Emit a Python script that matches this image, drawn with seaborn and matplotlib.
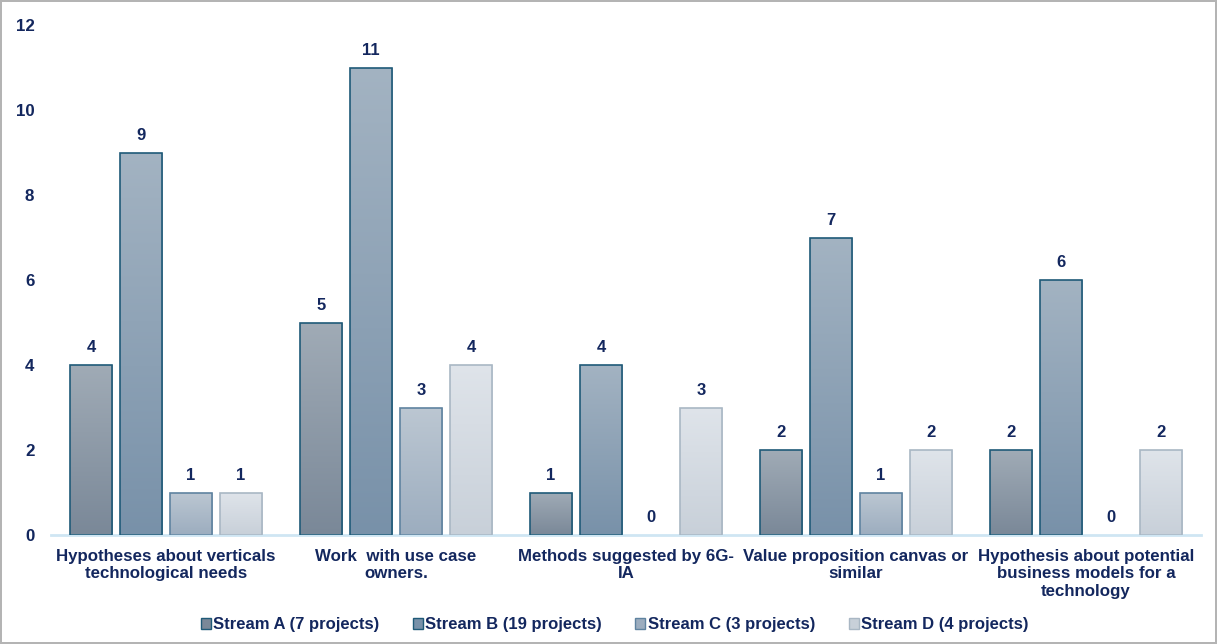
import numpy as np
import pandas as pd
import matplotlib.pyplot as plt
import matplotlib.colors as mcolors
from matplotlib.patches import Rectangle
import seaborn as sns

categories = [
    "Hypotheses about verticals\ntechnological needs",
    "Work  with use case\nowners.",
    "Methods suggested by 6G-\nIA",
    "Value proposition canvas or\nsimilar",
    "Hypothesis about potential\nbusiness models for a\ntechnology",
]
streams = [
    "Stream A (7 projects)",
    "Stream B (19 projects)",
    "Stream C (3 projects)",
    "Stream D (4 projects)",
]
stream_a = [4, 5, 1, 2, 2]
stream_b = [9, 11, 4, 7, 6]
stream_c = [1, 3, 0, 1, 0]
stream_d = [1, 4, 3, 2, 2]

# top / bottom gradient colours and edge colour for each stream
grad_top = ["#a0abb6", "#a3b3c2", "#bcc7d2", "#dfe4ea"]
grad_bottom = ["#7a8898", "#7891a9", "#9cadbf", "#c8d0d9"]
edges = ["#1f5a78", "#1f5a78", "#5f83a0", "#a9b7c4"]
text_col = "#13275e"

df = pd.DataFrame({
    "category": np.repeat(categories, 4),
    "stream": streams * len(categories),
    "count": [v for row in zip(stream_a, stream_b, stream_c, stream_d) for v in row],
})

sns.set_style("white")
plt.rcParams["font.family"] = ["Liberation Sans", "DejaVu Sans"]
plt.rcParams["font.weight"] = "bold"

fig = plt.figure(figsize=(12.17, 6.44), dpi=100)
fig.patch.set_edgecolor("#b4b4b4")
fig.patch.set_linewidth(1.5)
ax = fig.add_axes([51 / 1217, 1 - 535 / 644, 1150 / 1217, 510 / 644])

sns.barplot(data=df, x="category", y="count", hue="stream", hue_order=streams,
            order=categories, width=0.87, gap=0.16, palette=grad_top,
            legend=False, ax=ax)

# vertical gradient fill, clipped to each bar
grad = np.linspace(0, 1, 256).reshape(-1, 1)
for i, cont in enumerate(ax.containers):
    cmap = mcolors.LinearSegmentedColormap.from_list(
        f"g{i}", [grad_top[i], grad_bottom[i]])
    for p in cont.patches:
        x0, y0 = p.get_x(), p.get_y()
        w, h = p.get_width(), p.get_height()
        if h > 0:
            im = ax.imshow(grad, cmap=cmap, aspect="auto", origin="upper",
                           extent=[x0, x0 + w, y0, y0 + h], zorder=2)
            im.set_clip_path(p)
        p.set_facecolor("none")
        p.set_edgecolor(edges[i] if h > 0 else "none")
        p.set_linewidth(1.2)
        p.set_zorder(3)

ax.set_xlim(-0.5, len(categories) - 0.5)
ax.set_ylim(0, 12)

for cont in ax.containers:
    ax.bar_label(cont, padding=7, color=text_col, fontsize=12, fontweight="bold")

ax.set_yticks(range(0, 13, 2))
ax.set_xlabel("")
ax.set_ylabel("")
ax.tick_params(axis="both", length=0, colors=text_col, labelsize=12.2)
ax.tick_params(axis="y", pad=12)
ax.tick_params(axis="x", pad=10)
for lbl in ax.get_xticklabels() + ax.get_yticklabels():
    lbl.set_fontweight("bold")
    lbl.set_linespacing(1.2)
for side in ["top", "right", "left"]:
    ax.spines[side].set_visible(False)
ax.spines["bottom"].set_color("#cfe6f3")
ax.spines["bottom"].set_linewidth(2)

handles = [Rectangle((0, 0), 1, 1, facecolor=grad_bottom[i], edgecolor=edges[i],
                     linewidth=1) for i in range(4)]
fig.legend(handles, streams, loc="center", bbox_to_anchor=(0.505, 1 - 625 / 644),
           ncol=4, frameon=False, handlelength=0.6, handleheight=0.6,
           handletextpad=0.15, columnspacing=2.0,
           prop={"size": 12, "weight": "bold"}, labelcolor=text_col)

fig.savefig("out.png", dpi=100)
